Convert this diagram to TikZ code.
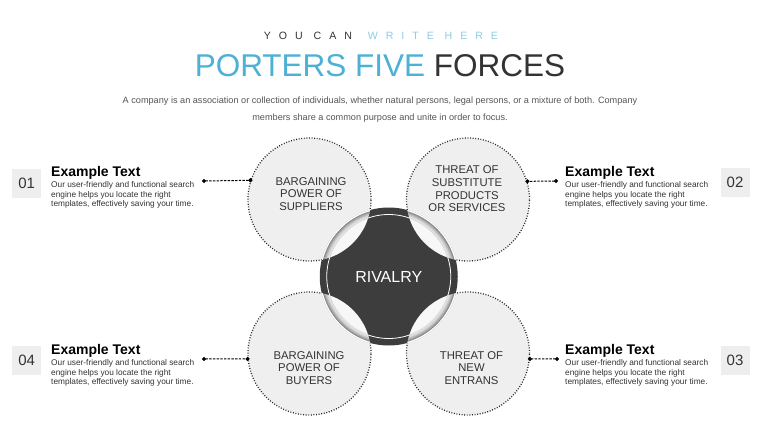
\documentclass[tikz,border=0pt]{standalone}
\usepackage{fontspec}
\setmainfont{Liberation Sans}
\usetikzlibrary{arrows.meta,positioning}
\definecolor{skyblue}{HTML}{4DB1D6}
\definecolor{paleblue}{HTML}{8FCDE3}
\definecolor{charcoal}{HTML}{333333}
\definecolor{introgray}{HTML}{555555}
\definecolor{bodygray}{HTML}{333333}
\definecolor{darkdisc}{HTML}{3D3D3D}
\definecolor{circlefill}{HTML}{EFEFEF}
\definecolor{lensfill}{HTML}{F7F7F7}
\definecolor{boxfill}{HTML}{EEEEEE}

\begin{document}
\begin{tikzpicture}[x=1pt,y=-1pt,
  force/.style={circle,fill=circlefill,draw=black!85,line width=1.3pt,dash pattern=on 0.9pt off 1.7pt,minimum size=123pt,inner sep=0pt},
  core/.style={circle,fill=darkdisc,minimum size=138pt,inner sep=0pt,text=white,font=\fontsize{16}{16}\selectfont},
  forcetext/.style={align=center,text=charcoal,font=\fontsize{11.3}{12.6}\selectfont},
  numbox/.style={fill=boxfill,minimum size=29pt,inner sep=0pt,text=charcoal,font=\fontsize{15}{15}\selectfont},
  head/.style={font=\bfseries\fontsize{14}{14}\selectfont,inner sep=0pt,text=black},
  body/.style={font=\fontsize{8.3}{9.4}\selectfont,align=left,inner sep=0pt,text=bodygray},
  intro/.style={font=\fontsize{9.15}{9.15}\selectfont,inner sep=0pt,text=introgray},
  link/.style={{Circle[length=4pt]}-{Circle[length=4pt]},shorten <=-2pt,shorten >=-2pt,line width=1pt,dash pattern=on 2.4pt off 1.3pt}
]
\fill[white] (0,0) rectangle (760,428);
\useasboundingbox (0,0) rectangle (760,428);

% heading
\node[anchor=base,inner sep=0pt,font=\fontsize{10.6}{10.6}\selectfont\addfontfeature{LetterSpace=75}] (tag) at (381,39.5)
  {\textcolor{charcoal}{YOU CAN}\hspace{5pt} \textcolor{paleblue}{WRITE HERE}};
\node[anchor=base,inner sep=0pt,font=\fontsize{31.5}{32}\selectfont] (title) at (380,76)
  {\textcolor{skyblue}{PORTERS FIVE} \textcolor{charcoal}{FORCES}};
\node[intro,anchor=base] (intro1) at (380,103) {A company is an association or collection of individuals, whether natural persons, legal persons, or a mixture of both. Company};
\node[intro,anchor=base] (intro2) at (380,120) {members share a common purpose and unite in order to focus.};

% five forces
\node[force] (sup) at (309.5,199.5) {};
\node[force] (sub) at (468,199.5) {};
\node[force] (buy) at (309.5,353.5) {};
\node[force] (ent) at (468,353.5) {};
\node[core] (riv) at (388.75,276.5) {RIVALRY};
\draw[white,line width=0.8pt] (riv.center) circle[radius=62pt];
\foreach \f in {sup,sub,buy,ent}{
  \begin{scope}
    \clip (\f.center) circle[radius=61.5pt];
    \fill[lensfill] (riv.center) circle[radius=69pt];
    \foreach \k/\o in {1/0.40,2/0.30,3/0.22,4/0.15,5/0.09,6/0.05,7/0.02}
      \draw[black,opacity=\o,line width=1.1pt] (riv.center) circle[radius=68.5pt-\k*1pt];
    \draw[white,line width=1pt] (riv.center) circle[radius=68.6pt];
    \draw[gray!35,line width=0.5pt] (riv.center) circle[radius=62pt];
  \end{scope}
}
\node[forcetext] (t1) at (311,194) {BARGAINING\\POWER OF\\SUPPLIERS};
\node[forcetext] (t2) at (467,189) {THREAT OF\\SUBSTITUTE\\PRODUCTS\\OR SERVICES};
\node[forcetext] (t3) at (309,368) {BARGAINING\\POWER OF\\BUYERS};
\node[forcetext] (t4) at (471.5,368) {THREAT OF\\NEW\\ENTRANS};

% side notes
\node[numbox] (n1) at (26.7,183) {01};
\node[numbox] (n2) at (735,182.5) {02};
\node[numbox] (n3) at (735,360.5) {03};
\node[numbox] (n4) at (26.7,360) {04};

\node[head,anchor=base west] (h1) at (51,176) {Example Text};
\node[body,anchor=north west] (b1) at (51,181.5) {Our user-friendly and functional search\\engine helps you locate the right\\templates, effectively saving your time.};
\node[head,anchor=base west] (h2) at (565,176) {Example Text};
\node[body,anchor=north west] (b2) at (565,181.5) {Our user-friendly and functional search\\engine helps you locate the right\\templates, effectively saving your time.};
\node[head,anchor=base west] (h3) at (565,354) {Example Text};
\node[body,anchor=north west] (b3) at (565,359.5) {Our user-friendly and functional search\\engine helps you locate the right\\templates, effectively saving your time.};
\node[head,anchor=base west] (h4) at (51,354) {Example Text};
\node[body,anchor=north west] (b4) at (51,359.5) {Our user-friendly and functional search\\engine helps you locate the right\\templates, effectively saving your time.};

\coordinate (d1) at (204,181);
\coordinate (d2) at (556,181);
\coordinate (d3) at (557,359);
\coordinate (d4) at (204,359);
\draw[link] (d1) -- (sup.162.5);
\draw[link] (d2) -- (sub.17.5);
\draw[link] (d3) -- (ent.-5);
\draw[link] (d4) -- (buy.185);
\end{tikzpicture}
\end{document}
